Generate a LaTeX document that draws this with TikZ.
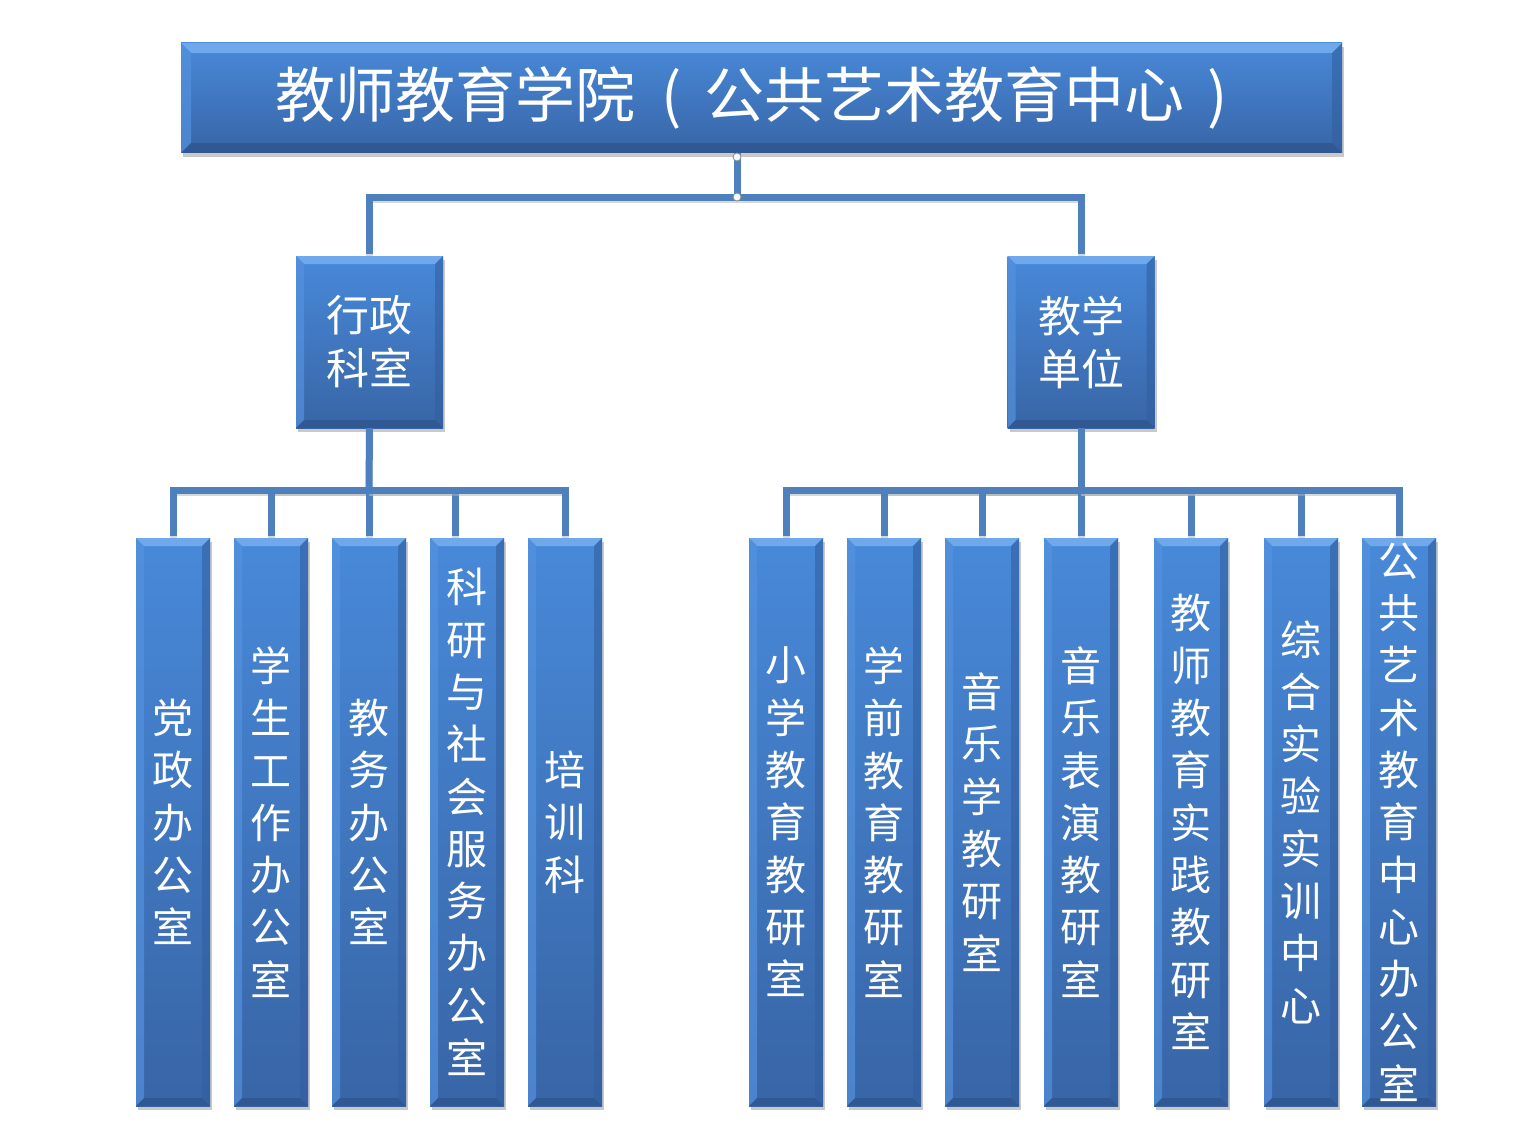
\documentclass[tikz,border=0pt]{standalone}
\usepackage{fontspec}
\newfontfamily\cjk{Noto Sans CJK SC}
\usetikzlibrary{shadows,calc}
\definecolor{facetop}{RGB}{72,137,217}
\definecolor{facebot}{RGB}{56,101,166}
\definecolor{bevtop}{RGB}{112,168,236}
\definecolor{bevleft}{RGB}{84,146,222}
\definecolor{bevright}{RGB}{50,95,160}
\definecolor{bevbot}{RGB}{45,84,140}
\definecolor{linkc}{RGB}{77,128,189}
\tikzset{
  box/.style={draw=none, inner sep=0pt, text=white, align=center,
    top color=facetop, bottom color=facebot,
    drop shadow={shadow xshift=2pt, shadow yshift=-4pt, opacity=0.35, fill=black!60},
    path picture={
      \coordinate (pnw) at (path picture bounding box.north west);
      \coordinate (pne) at (path picture bounding box.north east);
      \coordinate (psw) at (path picture bounding box.south west);
      \coordinate (pse) at (path picture bounding box.south east);
      \fill[bevtop] (pnw) -- (pne) -- ([xshift=-\bev,yshift=-\bev]pne) -- ([xshift=\bev,yshift=-\bev]pnw) -- cycle;
      \fill[bevleft,opacity=0.7] (pnw) -- ([xshift=\bev,yshift=-\bev]pnw) -- ([xshift=\bev,yshift=\bev]psw) -- (psw) -- cycle;
      \fill[bevright,opacity=0.6] (pne) -- ([xshift=-\bev,yshift=-\bev]pne) -- ([xshift=-\bev,yshift=\bev]pse) -- (pse) -- cycle;
      \fill[bevbot,opacity=0.7] (psw) -- (pse) -- ([xshift=-\bev,yshift=\bev]pse) -- ([xshift=\bev,yshift=\bev]psw) -- cycle;
    }},
  topbox/.style={box, minimum width=1161pt, minimum height=110pt,
    font=\cjk\fontsize{60}{70}\selectfont},
  midbox/.style={box, minimum width=147pt, minimum height=172pt,
    font=\cjk\fontsize{43}{53}\selectfont},
  leafbox/.style={box, minimum width=74pt, minimum height=568pt,
    font=\cjk\fontsize{41}{52.3}\selectfont},
  link/.style={draw=linkc, line width=7pt, line join=miter,
    preaction={draw=black!30, line width=7pt, opacity=0.5, transform canvas={yshift=-2pt}}},
  handle/.style={circle, draw=black!45, fill=cyan!5, line width=0.8pt, inner sep=0pt, minimum size=8pt}
}
\newcommand{\bev}{8pt}
\begin{document}
\begin{tikzpicture}[x=1pt,y=-1pt]
\useasboundingbox (0,0) rectangle (1523,1145);
\fill[white] (0,0) rectangle (1523,1145);

\coordinate (j1) at (737,157);
\coordinate (j2) at (737,197);
\coordinate (lb) at (369,490);
\coordinate (rb) at (1081,490);

% boxes
\begingroup
\renewcommand{\bev}{10pt}
\node[topbox] (top) at (761.5,98) {\raisebox{-2pt}{教师教育学院\hspace{7pt}\makebox[60pt][c]{(}\hspace{3pt}公共艺术教育中心\hspace{3pt}\makebox[60pt][c]{)}}};
\endgroup
\node[midbox] (xz) at (369.5,342) {行政\\科室};
\node[midbox] (jx) at (1081,342) {教学\\单位};

\node[leafbox] (c1) at (173,822) {党\\政\\办\\公\\室};
\node[leafbox] (c2) at (271,822) {学\\生\\工\\作\\办\\公\\室};
\node[leafbox] (c3) at (369,822) {教\\务\\办\\公\\室};
\node[leafbox] (c4) at (467,822) {科\\研\\与\\社\\会\\服\\务\\办\\公\\室};
\node[leafbox] (c5) at (565,822) {培\\训\\科};

\node[leafbox] (d1) at (786,822) {小\\学\\教\\育\\教\\研\\室};
\node[leafbox] (d2) at (884,822) {学\\前\\教\\育\\教\\研\\室};
\node[leafbox] (d3) at (982,822) {音\\乐\\学\\教\\研\\室};
\node[leafbox] (d4) at (1081,822) {音\\乐\\表\\演\\教\\研\\室};
\node[leafbox] (d5) at (1191,822) {教\\师\\教\\育\\实\\践\\教\\研\\室};
\node[leafbox] (d6) at (1301,822) {综\\合\\实\\验\\实\\训\\中\\心};
\node[leafbox] (d7) at (1399,822) {公\\共\\艺\\术\\教\\育\\中\\心\\办\\公\\室};

% connectors
\path[link] (top.south -| j1) -- (j2);
\path[link] ([yshift=2pt]xz.north) |- (j2) -| ([yshift=2pt]jx.north);
\path[link] (xz.south) -- (lb);
\path[link] ([yshift=2pt]c1.north) |- (lb);
\path[link] ([yshift=2pt]c2.north) |- (lb);
\path[link] ([yshift=2pt]c3.north) -- (lb);
\path[link] ([xshift=-12pt,yshift=2pt]c4.north) |- (lb);
\path[link] ([yshift=2pt]c5.north) |- (lb);

\path[link] (jx.south) -- (rb);
\path[link] ([yshift=2pt]d1.north) |- (rb);
\path[link] ([yshift=2pt]d2.north) |- (rb);
\path[link] ([yshift=2pt]d3.north) |- (rb);
\path[link] ([yshift=2pt]d4.north) -- (rb);
\path[link] ([yshift=2pt]d5.north) |- (rb);
\path[link] ([yshift=2pt]d6.north) |- (rb);
\path[link] ([yshift=2pt]d7.north) |- (rb);

\node[handle] (h1) at (j1) {};
\node[handle] (h2) at (j2) {};
\end{tikzpicture}
\end{document}
